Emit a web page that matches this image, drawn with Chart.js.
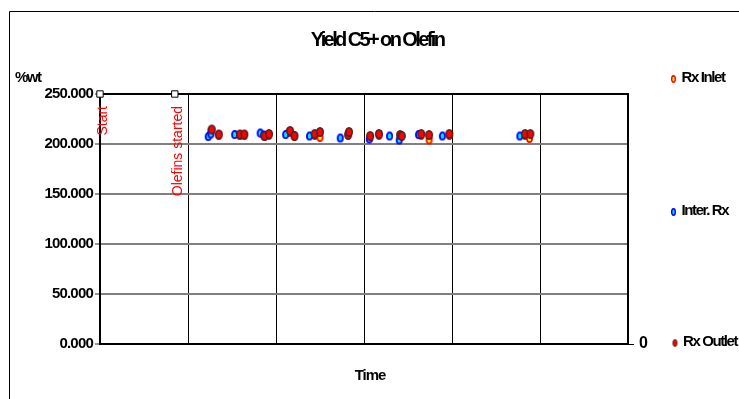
<!DOCTYPE html>
<html>
<head>
<meta charset="utf-8">
<script src="https://cdn.jsdelivr.net/npm/chart.js@4.4.1/dist/chart.umd.min.js"></script>
<style>
  html, body { margin: 0; padding: 0; background: #fff; }
  #wrap { position: relative; width: 739px; height: 399px; }
</style>
</head>
<body>
<div id="wrap"><canvas id="chart" width="739" height="399"></canvas></div>
<script>
// chart data (time in grid units, yield in %wt)
const chartTitle = "Yield C5+ on Olefin";
const yTicks = [0, 50, 100, 150, 200, 250];
const seriesNames = ["Rx Inlet", "Inter. Rx", "Rx Outlet"];

const eventNames = ["Start", "Olefins started"];
const eventTime = [0, 0.85];
const eventLevel = [250, 250];

const inletTime = [1.26, 1.35, 1.59, 1.64, 1.87, 1.92, 2.15, 2.21, 2.44, 2.50, 2.82, 3.07, 3.17, 3.41, 3.65, 3.74, 3.97, 4.83, 4.88];
const inletYield = [213, 209, 209, 209, 208, 209, 212, 208, 209, 207, 210, 207, 209, 208, 209, 204.5, 209, 209, 206];

const interTime = [1.23, 1.26, 1.53, 1.82, 1.86, 2.11, 2.38, 2.73, 3.06, 3.29, 3.40, 3.62, 3.89, 4.77];
const interYield = [207.5, 210, 209.5, 211, 209, 209.5, 208, 206, 205, 208, 204, 209.5, 208, 208];

const outletTime = [1.27, 1.35, 1.59, 1.64, 1.87, 1.92, 2.16, 2.21, 2.44, 2.50, 2.82, 2.83, 3.07, 3.17, 3.41, 3.43, 3.65, 3.74, 3.97, 4.83, 4.89];
const outletYield = [214.5, 209.5, 209.5, 209.5, 208, 210, 213, 208, 210, 212, 209, 212, 208, 210, 209, 208, 210, 209, 210, 210, 210];

const FONT = "'Liberation Sans', Arial, sans-serif";

// oval marker, the library draws it at each point
function oval(w, h, fill, stroke, lw) {
  const c = document.createElement("canvas");
  c.width = w + 2;
  c.height = h + 2;
  const g = c.getContext("2d");
  g.beginPath();
  g.ellipse(c.width / 2, c.height / 2, w / 2 - lw / 2, h / 2 - lw / 2, 0, 0, Math.PI * 2);
  g.fillStyle = fill;
  g.fill();
  g.lineWidth = lw;
  g.strokeStyle = stroke;
  g.stroke();
  return c;
}

const inletMark = oval(7, 10, "#ffff00", "#ff0000", 1.8);
const interMark = oval(7, 9, "#00e8ff", "#0000ff", 1.8);
const outletMark = oval(8, 10, "#ff0000", "#4a2222", 1.5);
const legendMarks = [oval(5, 8, "#ffff00", "#ff0000", 1.4), oval(5, 8, "#00e8ff", "#0000ff", 1.4), oval(5, 8, "#ff0000", "#4a2222", 1)];

function pts(xs, ys) {
  return xs.map((x, i) => ({ x: x, y: ys[i] }));
}

function text(ctx, s, x, y, font, color, align, spacing) {
  ctx.save();
  ctx.font = font;
  ctx.fillStyle = color;
  ctx.textAlign = align;
  ctx.textBaseline = "middle";
  ctx.letterSpacing = spacing;
  ctx.fillText(s, x, y);
  ctx.restore();
}

const decor = {
  id: "decor",
  beforeDraw(chart) {
    const ctx = chart.ctx;
    ctx.save();
    ctx.fillStyle = "#fff";
    ctx.fillRect(0, 0, chart.width, chart.height);
    // outer frame (only top and left show)
    ctx.strokeStyle = "#000";
    ctx.lineWidth = 1;
    ctx.beginPath();
    ctx.moveTo(9.5, chart.height);
    ctx.lineTo(9.5, 11.5);
    ctx.lineTo(chart.width, 11.5);
    ctx.stroke();
    ctx.restore();
    // squeezed look of the tick labels
    ctx.letterSpacing = "-0.8px";
  },
  beforeDatasetsDraw(chart) {
    const ctx = chart.ctx;
    const a = chart.chartArea;
    ctx.save();
    ctx.strokeStyle = "#000";
    ctx.lineWidth = 2;
    ctx.strokeRect(a.left, a.top, a.right - a.left, a.bottom - a.top);
    ctx.restore();
  },
  afterDraw(chart) {
    const ctx = chart.ctx;
    const a = chart.chartArea;
    text(ctx, chartTitle, (a.left + a.right) / 2 + 13, 40, "bold 20px " + FONT, "#000", "center", "-2.6px");
    text(ctx, "%wt", 15, 78, "bold 15px " + FONT, "#000", "left", "-1.5px");
    text(ctx, "Time", (a.left + a.right) / 2 + 6, 376, "bold 15px " + FONT, "#000", "center", "-1px");

    // event labels, read up from just under the top
    const meta = chart.getDatasetMeta(3);
    meta.data.forEach((p, i) => {
      ctx.save();
      ctx.translate(p.x + 3, a.top + 12);
      ctx.rotate(-Math.PI / 2);
      text(ctx, eventNames[i], 0, 0, "14px " + FONT, "#ff0000", "right", "0px");
      ctx.restore();
    });

    // legend down the right side
    const ys = [78, 211, 342];
    seriesNames.forEach((name, i) => {
      const m = legendMarks[i];
      const mx = i === 2 ? 675 : 673.5;
      ctx.drawImage(m, mx - m.width / 2, ys[i] + 1 - m.height / 2);
      text(ctx, name, mx + 8, ys[i], "bold 15px " + FONT, "#000", "left", "-1.4px");
    });
  }
};

new Chart(document.getElementById("chart"), {
  type: "scatter",
  data: {
    datasets: [
      { label: seriesNames[2], data: pts(outletTime, outletYield), pointStyle: outletMark, pointRadius: 4, order: 1 },
      { label: seriesNames[1], data: pts(interTime, interYield), pointStyle: interMark, pointRadius: 4, order: 2 },
      { label: seriesNames[0], data: pts(inletTime, inletYield), pointStyle: inletMark, pointRadius: 4, order: 3 },
      { label: "events", data: pts(eventTime, eventLevel), pointStyle: "rect", pointRadius: 4.5,
        backgroundColor: "#fff", borderColor: "#000", borderWidth: 1, clip: false, order: 0 }
    ]
  },
  options: {
    responsive: false,
    animation: false,
    layout: { padding: { top: 94, left: 0, right: 0, bottom: 0 } },
    plugins: { legend: { display: false }, title: { display: false }, tooltip: { enabled: false } },
    scales: {
      x: {
        type: "linear", min: 0, max: 6,
        ticks: { display: false, stepSize: 1 },
        grid: { color: "#000", lineWidth: 1, drawTicks: false },
        border: { color: "#000", width: 2 },
        afterFit: s => { s.height = 55; }
      },
      y: {
        position: "left", min: 0, max: 250,
        afterBuildTicks: s => { s.ticks = yTicks.map(v => ({ value: v })); },
        ticks: { color: "#000", padding: 2, font: { family: FONT, size: 15, weight: "bold" }, callback: v => v.toFixed(3) },
        grid: { color: "#808080", lineWidth: 2, tickLength: 5, tickColor: "#333", tickWidth: 1 },
        border: { color: "#000", width: 2 },
        afterFit: s => { s.width = 100; }
      },
      y2: {
        position: "right", min: 0, max: 250,
        afterBuildTicks: s => { s.ticks = [{ value: 0 }]; },
        ticks: { color: "#000", padding: 5, font: { family: FONT, size: 16, weight: "bold" }, callback: v => String(v) },
        grid: { drawOnChartArea: false, tickLength: 6, tickColor: "#000", lineWidth: 1 },
        border: { color: "#000", width: 2 },
        afterFit: s => { s.width = 111; }
      }
    }
  },
  plugins: [decor]
});
</script>
</body>
</html>
